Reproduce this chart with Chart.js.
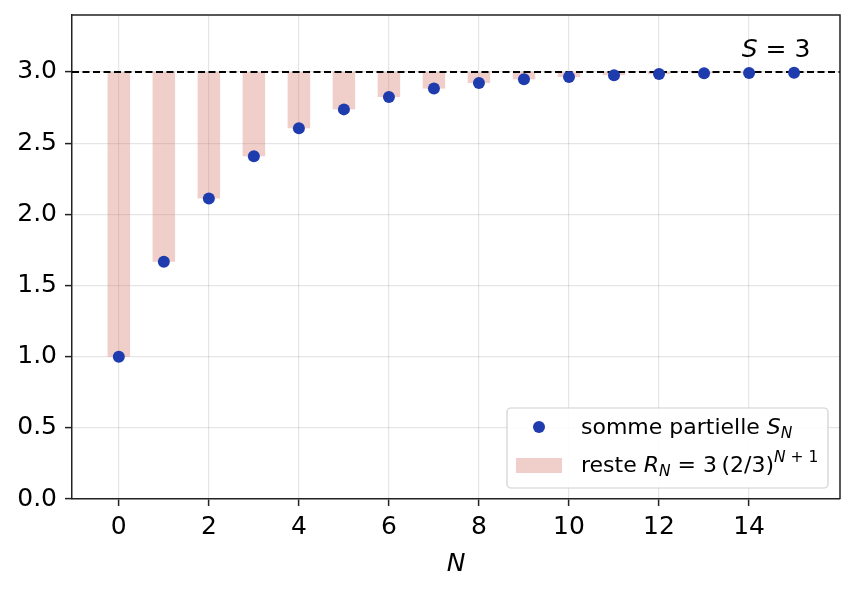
<!DOCTYPE html>
<html>
<head>
<meta charset="utf-8">
<script src="https://cdn.jsdelivr.net/npm/chart.js@4/dist/chart.umd.min.js"></script>
<style>
  html, body { margin: 0; padding: 0; background: #fff; }
  #wrap { width: 854px; height: 592px; }
</style>
</head>
<body>
<div id="wrap"><canvas id="seriesChart" width="854" height="592"></canvas></div>
<script>
// values
const nValues = [0, 1, 2, 3, 4, 5, 6, 7, 8, 9, 10, 11, 12, 13, 14, 15];
const partialSums = [1.000, 1.667, 2.111, 2.407, 2.605, 2.737, 2.824, 2.883,
                     2.922, 2.948, 2.965, 2.977, 2.985, 2.990, 2.993, 2.995];
const limitS = 3;
const xTicks = [0, 2, 4, 6, 8, 10, 12, 14];
const yTicks = [0, 0.5, 1.0, 1.5, 2.0, 2.5, 3.0];

const FONT = "DejaVu Sans";
const BLUE = "#1f3cae";
const PINK = "rgba(210,110,100,0.34)";

// draw a line of text made of runs (normal / italic / sub / sup)
function drawRuns(ctx, x, y, runs) {
    ctx.textBaseline = "alphabetic";
    ctx.textAlign = "left";
    runs.forEach(function (r) {
        ctx.font = (r.italic ? "italic " : "") + r.size + "px " + FONT;
        ctx.fillText(r.t, x, y + (r.dy || 0));
        x += ctx.measureText(r.t).width + (r.gap || 0);
    });
}

const decorPlugin = {
    id: "decor",
    afterDatasetDraw(chart, args) {
        if (args.index !== 0) return;
        // dashed limit line S = 3
        const ctx = chart.ctx, area = chart.chartArea;
        const y = chart.scales.y.getPixelForValue(limitS);
        ctx.save();
        ctx.strokeStyle = "#000";
        ctx.lineWidth = 2;
        ctx.setLineDash([7, 3.5]);
        ctx.beginPath();
        ctx.moveTo(area.left, y);
        ctx.lineTo(area.right, y);
        ctx.stroke();
        ctx.restore();
    },
    afterDraw(chart) {
        const ctx = chart.ctx, area = chart.chartArea;
        const xs = chart.scales.x, ys = chart.scales.y;
        ctx.save();
        // top and right spines
        ctx.strokeStyle = "#222";
        ctx.lineWidth = 1.5;
        ctx.beginPath();
        ctx.moveTo(area.left, area.top);
        ctx.lineTo(area.right, area.top);
        ctx.lineTo(area.right, area.bottom);
        ctx.stroke();

        ctx.fillStyle = "#000";
        // annotation S = 3
        const ax = xs.getPixelForValue(14.6);
        const ay = ys.getPixelForValue(3.12) + 2;
        ctx.font = "25px " + FONT;
        const w1 = ctx.measureText(" = 3").width;
        ctx.font = "italic 25px " + FONT;
        const w0 = ctx.measureText("S").width;
        drawRuns(ctx, ax - (w0 + w1) / 2, ay, [
            { t: "S", italic: true, size: 25 },
            { t: " = 3", size: 25 }
        ]);

        // x axis title
        ctx.font = "italic 25px " + FONT;
        ctx.textAlign = "center";
        ctx.fillText("N", (area.left + area.right) / 2, 571);

        // legend box
        const bx = 507, by = 408, bw = 321, bh = 80;
        ctx.fillStyle = "rgba(255,255,255,0.85)";
        ctx.strokeStyle = "#d0d0d0";
        ctx.lineWidth = 1.2;
        ctx.beginPath();
        ctx.roundRect(bx, by, bw, bh, 4);
        ctx.fill();
        ctx.stroke();

        ctx.fillStyle = BLUE;
        ctx.beginPath();
        ctx.arc(539, 427, 6, 0, Math.PI * 2);
        ctx.fill();
        ctx.fillStyle = PINK;
        ctx.fillRect(516, 458, 46, 15);

        ctx.fillStyle = "#000";
        drawRuns(ctx, 581, 434, [
            { t: "somme partielle ", size: 22 },
            { t: "S", italic: true, size: 22 },
            { t: "N", italic: true, size: 15.5, dy: 4 }
        ]);
        drawRuns(ctx, 581, 472, [
            { t: "reste ", size: 22 },
            { t: "R", italic: true, size: 22 },
            { t: "N", italic: true, size: 15.5, dy: 4 },
            { t: " = 3\u2009(2/3)", size: 22 },
            { t: "N", italic: true, size: 15.5, dy: -10 },
            { t: " + 1", size: 15.5, dy: -10 }
        ]);
        ctx.restore();
    }
};

const canvas = document.getElementById("seriesChart");
new Chart(canvas, {
    data: {
        datasets: [
            {
                type: "bar",
                label: "reste",
                data: nValues.map(function (n, i) { return { x: n, y: [partialSums[i], limitS] }; }),
                backgroundColor: PINK,
                borderWidth: 0,
                barPercentage: 0.5,
                categoryPercentage: 1.0,
                order: 2
            },
            {
                type: "scatter",
                label: "somme partielle",
                data: nValues.map(function (n, i) { return { x: n, y: partialSums[i] }; }),
                backgroundColor: BLUE,
                borderWidth: 0,
                pointRadius: 6,
                order: 1
            }
        ]
    },
    options: {
        responsive: false,
        animation: false,
        devicePixelRatio: 1,
        layout: { padding: { top: 15, right: 14, left: 0, bottom: 0 } },
        plugins: { legend: { display: false }, tooltip: { enabled: false } },
        scales: {
            x: {
                type: "linear",
                offset: false,
                min: -1.04,
                max: 16.02,
                afterBuildTicks: function (s) { s.ticks = xTicks.map(function (v) { return { value: v }; }); },
                afterFit: function (s) { s.height = 93; s.paddingLeft = 0; s.paddingRight = 0; },
                grid: { offset: false, color: "rgba(0,0,0,0.1)", lineWidth: 1.2, tickColor: "#222", tickWidth: 1.5, tickLength: 7 },
                border: { color: "#222", width: 1.5 },
                ticks: { color: "#000", font: { family: FONT, size: 25 }, padding: 6, maxRotation: 0 }
            },
            y: {
                type: "linear",
                min: 0,
                max: 3.4,
                afterBuildTicks: function (s) { s.ticks = yTicks.map(function (v) { return { value: v }; }); },
                afterFit: function (s) { s.width = 72; s.paddingTop = 0; s.paddingBottom = 0; },
                grid: { color: "rgba(0,0,0,0.1)", lineWidth: 1.2, tickColor: "#222", tickWidth: 1.5, tickLength: 7 },
                border: { color: "#222", width: 1.5 },
                ticks: {
                    color: "#000", font: { family: FONT, size: 25 }, padding: 8,
                    callback: function (v) { return v.toFixed(1); }
                }
            }
        }
    },
    plugins: [decorPlugin]
});
</script>
</body>
</html>
